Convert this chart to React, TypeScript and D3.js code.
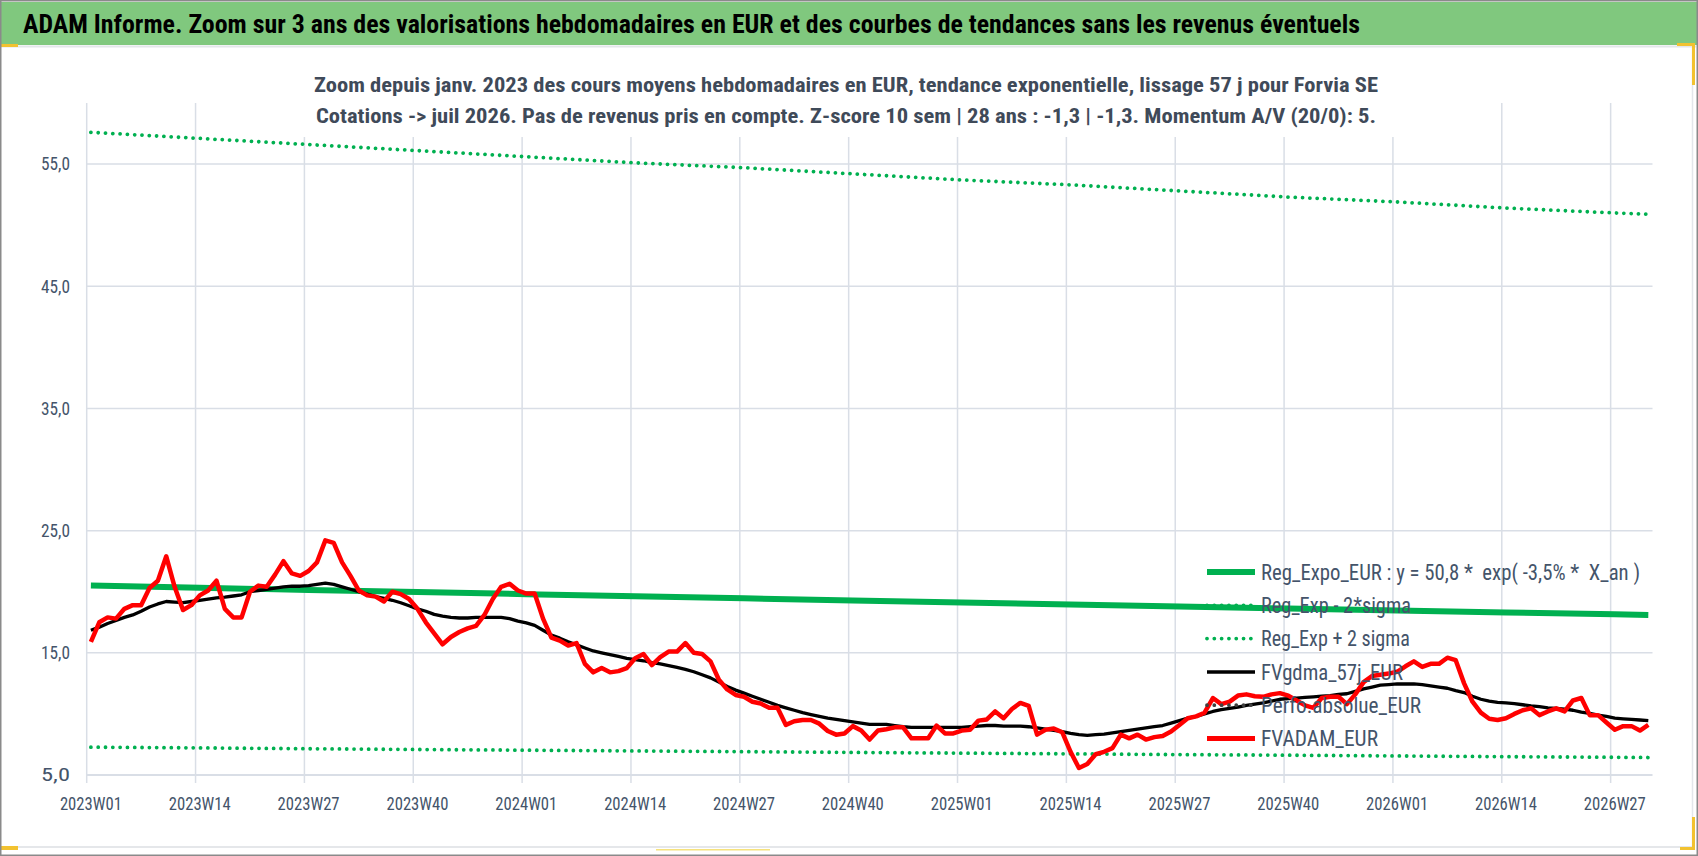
import React from 'react';
import * as d3 from 'd3';

const W = 1698;
const H = 856;
const FONT = "'Liberation Sans Narrow', 'Arial Narrow', 'Roboto Condensed', 'Liberation Sans', Arial, sans-serif";

// ---- data ----
const yearWeeks: [number, number][] = [[2023, 52], [2024, 52], [2025, 52], [2026, 31]];
const weeks: string[] = yearWeeks.flatMap(([y, n]) =>
  d3.range(1, n + 1).map((w) => `${y}W${String(w).padStart(2, '0')}`)
);

const tickLabels = [
  '2023W01', '2023W14', '2023W27', '2023W40',
  '2024W01', '2024W14', '2024W27', '2024W40',
  '2025W01', '2025W14', '2025W27', '2025W40',
  '2026W01', '2026W14', '2026W27',
];
const trendWeeks = [...tickLabels, '2026W31'];

const regExpo = [20.5, 20.32, 20.15, 19.97, 19.8, 19.63, 19.46, 19.29, 19.12, 18.96, 18.79, 18.63, 18.47, 18.31, 18.15, 18.1];
const regPlus2 = [57.6, 57.1, 56.6, 56.1, 55.6, 55.1, 54.7, 54.2, 53.7, 53.3, 52.8, 52.3, 51.9, 51.4, 51.0, 50.9];
const regMinus2 = [7.28, 7.22, 7.15, 7.09, 7.03, 6.97, 6.91, 6.85, 6.79, 6.73, 6.67, 6.62, 6.56, 6.5, 6.45, 6.43];

const fvgdma = [
  16.85, 17.1, 17.4, 17.65, 17.9, 18.1, 18.4, 18.75, 19.0, 19.2,
  19.15, 19.1, 19.2, 19.3, 19.4, 19.5, 19.55, 19.65, 19.75, 20.0,
  20.1, 20.2, 20.3, 20.4, 20.45, 20.45, 20.5, 20.6, 20.7, 20.6,
  20.4, 20.2, 20.0, 19.8, 19.6, 19.45, 19.3, 19.1, 18.85, 18.6,
  18.4, 18.15, 18.0, 17.9, 17.85, 17.85, 17.9, 17.9, 17.9, 17.9,
  17.8, 17.6, 17.45, 17.25, 16.85, 16.45, 16.2, 15.9, 15.65, 15.4,
  15.15, 15.0, 14.85, 14.7, 14.55, 14.45, 14.35, 14.2, 14.1, 13.95,
  13.8, 13.65, 13.45, 13.2, 12.95, 12.6, 12.25, 11.95, 11.7, 11.45,
  11.2, 10.95, 10.7, 10.5, 10.3, 10.1, 9.95, 9.8, 9.65, 9.55,
  9.45, 9.35, 9.25, 9.15, 9.15, 9.15, 9.05, 8.95, 8.9, 8.9,
  8.9, 8.9, 8.9, 8.9, 8.9, 8.95, 9.0, 9.05, 9.05, 9.0,
  9.0, 9.0, 8.95, 8.85, 8.75, 8.65, 8.55, 8.4, 8.3, 8.25,
  8.3, 8.35, 8.45, 8.55, 8.65, 8.75, 8.85, 8.95, 9.05, 9.25,
  9.45, 9.65, 9.8, 10.0, 10.2, 10.35, 10.45, 10.55, 10.7, 10.8,
  10.9, 11.05, 11.2, 11.25, 11.3, 11.35, 11.4, 11.45, 11.5, 11.6,
  11.65, 11.85, 12.05, 12.2, 12.35, 12.4, 12.45, 12.45, 12.45, 12.4,
  12.3, 12.2, 12.1, 11.9, 11.75, 11.45, 11.2, 11.05, 10.95, 10.9,
  10.85, 10.75, 10.65, 10.6, 10.5, 10.45, 10.4, 10.3, 10.15, 10.05,
  9.9, 9.8, 9.65, 9.6, 9.55, 9.5, 9.45,
];

const fvadam = [
  15.9, 17.5, 17.9, 17.8, 18.6, 18.9, 18.9, 20.3, 20.9, 22.9,
  20.4, 18.5, 18.9, 19.7, 20.1, 20.9, 18.6, 17.9, 17.9, 20.0,
  20.5, 20.4, 21.4, 22.5, 21.5, 21.3, 21.7, 22.4, 24.2, 24.0,
  22.4, 21.3, 20.1, 19.7, 19.6, 19.2, 20.0, 19.8, 19.4, 18.6,
  17.5, 16.6, 15.7, 16.3, 16.7, 17.0, 17.2, 18.1, 19.4, 20.4,
  20.65, 20.1, 19.85, 19.85, 17.8, 16.25, 16.0, 15.6, 15.8, 14.1,
  13.4, 13.75, 13.4, 13.5, 13.75, 14.55, 14.9, 14.0, 14.65, 15.1,
  15.1, 15.8, 15.0, 14.9, 14.3, 12.8, 12.0, 11.55, 11.4, 11.0,
  10.85, 10.5, 10.5, 9.1, 9.4, 9.5, 9.5, 9.2, 8.6, 8.3,
  8.4, 9.0, 8.65, 7.9, 8.64, 8.75, 8.9, 8.9, 8.0, 8.0,
  8.0, 9.05, 8.4, 8.4, 8.64, 8.7, 9.45, 9.55, 10.2, 9.65,
  10.4, 10.9, 10.65, 8.3, 8.7, 8.8, 8.5, 6.9, 5.57, 5.9,
  6.7, 6.9, 7.2, 8.3, 8.0, 8.3, 7.9, 8.1, 8.2, 8.56,
  9.1, 9.65, 9.8, 10.1, 11.3, 10.8, 11.0, 11.5, 11.6, 11.45,
  11.4, 11.6, 11.7, 11.5, 11.1, 10.7, 10.5, 11.3, 11.4, 11.4,
  10.8, 11.6, 12.6, 13.1, 13.2, 13.3, 13.45, 13.9, 14.3, 13.85,
  14.1, 14.1, 14.6, 14.4, 12.5, 11.0, 10.1, 9.6, 9.5, 9.65,
  10.0, 10.3, 10.46, 9.9, 10.2, 10.46, 10.2, 11.1, 11.3, 9.9,
  9.9, 9.3, 8.7, 9.0, 9.0, 8.64, 9.1,
];

const yTicks = [5, 15, 25, 35, 45, 55];

const titleText = 'ADAM Informe. Zoom sur 3 ans des valorisations hebdomadaires en EUR et des courbes de tendances sans les revenus éventuels';
const subtitle1 = 'Zoom depuis janv. 2023 des cours moyens hebdomadaires en EUR, tendance exponentielle, lissage 57 j pour Forvia SE';
const subtitle2 = 'Cotations -> juil 2026. Pas de revenus pris en compte. Z-score 10 sem | 28 ans : -1,3 | -1,3. Momentum A/V (20/0): 5.';

const legendLabels = [
  'Reg_Expo_EUR : y = 50,8 *  exp( -3,5% *  X_an )',
  'Reg_Exp - 2*sigma',
  'Reg_Exp + 2 sigma',
  'FVgdma_57j_EUR',
  'Perfo.absolue_EUR',
  'FVADAM_EUR',
];

// ---- styles ----
const GREEN = '#00b050';
const RED = '#ff0000';
const BLACK = '#000000';
const TEXT = '#44546a';
const GRID = '#d9dee6';
const DOT_W = 3.8;
const DOT_DASH = '0.01 7.3';

const legendStyles = [
  { color: GREEN, width: 6, dash: undefined as string | undefined, cap: 'butt', len: 379 },
  { color: GREEN, width: DOT_W, dash: DOT_DASH, cap: 'round', len: 150 },
  { color: GREEN, width: DOT_W, dash: DOT_DASH, cap: 'round', len: 149 },
  { color: BLACK, width: 3.5, dash: undefined, cap: 'butt', len: 142 },
  { color: '#404040', width: DOT_W, dash: DOT_DASH, cap: 'round', len: 160 },
  { color: RED, width: 5, dash: undefined, cap: 'butt', len: 117 },
];

export default function App() {
  const left = 86.7;
  const right = 1652.5;
  const top = 103;
  const bottom = 775;

  const x = d3.scaleBand<string>().domain(weeks).range([left, right]).padding(0);
  const bw = x.bandwidth();
  const cx = (w: string) => (x(w) as number) + bw / 2;
  const y = d3.scaleLinear().domain([5, 60]).range([bottom, top]);

  const lineW = d3.line<number>().x((_, i) => cx(weeks[i])).y((d) => y(d));
  const lineT = d3.line<number>().x((_, i) => cx(trendWeeks[i])).y((d) => y(d));

  const legendX = 1207;
  const legendY0 = 572;
  const legendDy = 33.3;

  return (
    <svg
      width={W}
      height={H}
      viewBox={`0 0 ${W} ${H}`}
      style={{ position: 'fixed', left: 0, top: 0, background: '#fff' }}
      fontFamily={FONT}
    >
      <rect x={0} y={0} width={W} height={H} fill="#ffffff" />
      {/* header band */}
      <rect x={1} y={2} width={W - 2} height={43} fill="#80c87e" />
      <line x1={1} x2={W - 2} y1={46.5} y2={46.5} stroke="#e3e6ea" strokeWidth={2} />
      <text
        x={23}
        y={33}
        fontSize={25}
        fontWeight="bold"
        fill="#000"
        textLength={1337}
        lengthAdjust="spacingAndGlyphs"
      >
        {titleText}
      </text>

      {/* chart area frame */}
      <line x1={1} x2={1692} y1={847} y2={847} stroke="#dcdfe3" strokeWidth={1.5} />
      <line x1={1692.5} x2={1692.5} y1={47} y2={847} stroke="#e3e6ea" strokeWidth={1.5} />

      {/* gridlines */}
      <g>
        {yTicks.map((t) => (
          <line key={'h' + t} x1={left} x2={right} y1={y(t)} y2={y(t)} stroke={GRID} strokeWidth={t === 5 ? 1.8 : 1.5} />
        ))}
        {tickLabels.map((w) => (
          <line key={'v' + w} x1={x(w) as number} x2={x(w) as number} y1={top} y2={bottom + 8} stroke={GRID} strokeWidth={1.5} />
        ))}
      </g>

      {/* subtitle with white backing */}
      <rect x={300} y={66} width={1100} height={71} fill="#ffffff" />
      <text x={314} y={92} fontSize={20} fontWeight="bold" fill="#3f4a59" textLength={1064} lengthAdjust="spacingAndGlyphs">
        {subtitle1}
      </text>
      <text x={316} y={123} fontSize={20} fontWeight="bold" fill="#3f4a59" textLength={1060} lengthAdjust="spacingAndGlyphs">
        {subtitle2}
      </text>

      {/* y labels */}
      {yTicks.map((t) => (
        <text
          key={'yl' + t}
          x={70}
          y={y(t)}
          dy="0.35em"
          textAnchor="end"
          fontSize={18}
          fill={TEXT}
          textLength={29}
          lengthAdjust="spacingAndGlyphs"
        >
          {d3.format('.1f')(t).replace('.', ',')}
        </text>
      ))}

      {/* x labels */}
      {tickLabels.map((w) => (
        <text
          key={'xl' + w}
          x={cx(w) - 31}
          y={804}
          dy="0.35em"
          fontSize={18}
          fill={TEXT}
          textLength={62}
          lengthAdjust="spacingAndGlyphs"
        >
          {w}
        </text>
      ))}

      {/* series */}
      <path d={lineT(regPlus2) || ''} fill="none" stroke={GREEN} strokeWidth={DOT_W} strokeDasharray={DOT_DASH} strokeLinecap="round" />
      <path d={lineT(regMinus2) || ''} fill="none" stroke={GREEN} strokeWidth={DOT_W} strokeDasharray={DOT_DASH} strokeLinecap="round" />
      <path d={lineT(regExpo) || ''} fill="none" stroke={GREEN} strokeWidth={6} />
      <path d={lineW(fvgdma) || ''} fill="none" stroke={BLACK} strokeWidth={3.3} strokeLinejoin="round" />
      <path d={lineW(fvadam) || ''} fill="none" stroke={RED} strokeWidth={4.5} strokeLinejoin="round" />

      {/* legend */}
      {legendLabels.map((lab, i) => {
        const s = legendStyles[i];
        const ly = legendY0 + i * legendDy;
        return (
          <g key={'lg' + i}>
            <line
              x1={legendX}
              x2={legendX + 48}
              y1={ly}
              y2={ly}
              stroke={s.color}
              strokeWidth={s.width}
              strokeDasharray={s.dash}
              strokeLinecap={s.cap as any}
            />
            <text
              x={1261}
              y={ly}
              dy="0.35em"
              fontSize={22}
              fill={TEXT}
              textLength={s.len}
              lengthAdjust="spacingAndGlyphs"
              style={{ whiteSpace: 'pre' }}
            >
              {lab}
            </text>
          </g>
        );
      })}

      {/* selection handle marks */}
      <rect x={1} y={44} width={17} height={3} fill="#f2c230" />
      <rect x={1} y={846} width={17} height={4} fill="#f2c230" />
      <rect x={656} y={849} width={114} height={1.5} fill="#f6e27c" />
      <rect x={1677} y={43} width={18} height={3} fill="#f2c230" />
      <rect x={1692} y={43} width={3} height={42} fill="#f2c230" />
      <rect x={1692} y={817} width={3} height={33} fill="#f2c230" />
      <rect x={1680} y={847} width={15} height={3} fill="#f2c230" />

      {/* outer border */}
      <rect x={0.75} y={0.75} width={W - 1.5} height={H - 1.5} fill="none" stroke="#8a8a8a" strokeWidth={1.5} />
    </svg>
  );
}
